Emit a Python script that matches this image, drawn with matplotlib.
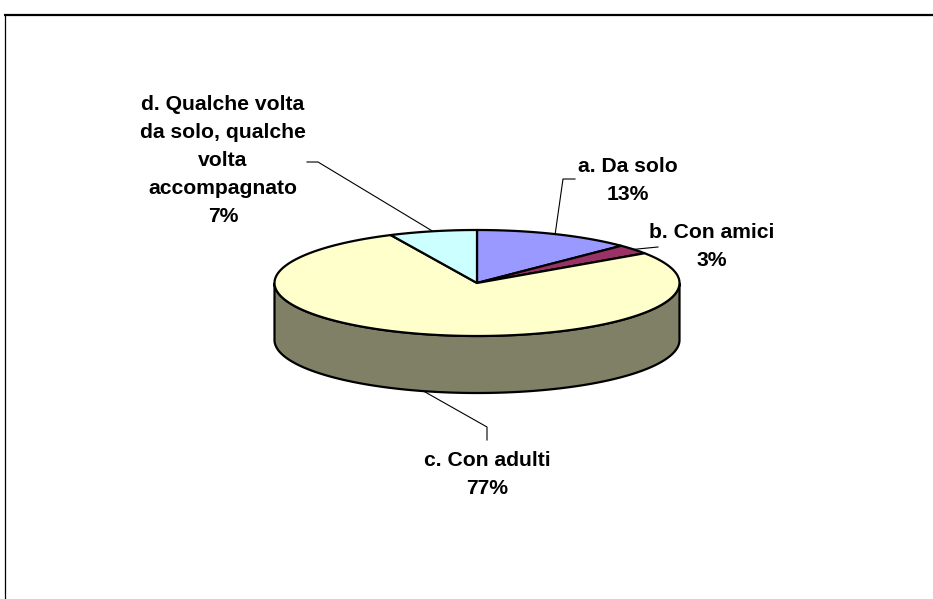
import numpy as np
import matplotlib
matplotlib.use("Agg")
import matplotlib.pyplot as plt
from matplotlib.patches import Polygon

# ---- data ----
categories = ["a. Da solo", "b. Con amici", "c. Con adulti",
              "d. Qualche volta\nda solo, qualche\nvolta\naccompagnato"]
values = [12.6, 2.9, 77.4, 7.0]
colors = ["#9999FF", "#993366", "#FFFFCC", "#CCFFFF"]
side_colors = ["#4D4D80", "#4D1A33", "#808066", "#668080"]

# ---- layout ----
W, H = 933, 599
cx, cy = 477, 283
A, B = 202.5, 53.0
DEPTH = 57

fig = plt.figure(figsize=(W / 100, H / 100), dpi=100)
ax = fig.add_axes([0, 0, 1, 1])
ax.set_xlim(0, W)
ax.set_ylim(H, 0)
ax.axis("off")

# frame
ax.plot([4, W], [14.5, 14.5], color="black", lw=1.6, solid_capstyle="butt")
ax.plot([4.5, 4.5], [14, H], color="black", lw=0.9, solid_capstyle="butt")


def pt(theta_deg, dy=0.0):
    t = np.radians(theta_deg)
    return cx + A * np.sin(t), cy - B * np.cos(t) + dy


total = float(sum(values))
angles = np.cumsum([0] + [v / total * 360 for v in values])

# sides (front half: 90..270 deg clockwise from top)
for i in range(len(values)):
    s, e = angles[i], angles[i + 1]
    lo, hi = max(s, 90), min(e, 270)
    if hi <= lo:
        continue
    th = np.linspace(lo, hi, 200)
    top = [pt(t) for t in th]
    bot = [pt(t, DEPTH) for t in th[::-1]]
    poly = Polygon(top + bot, closed=True, facecolor=side_colors[i],
                   edgecolor="black", lw=1.6, zorder=2)
    ax.add_patch(poly)

# top wedges
for i in range(len(values)):
    s, e = angles[i], angles[i + 1]
    th = np.linspace(s, e, max(int((e - s) * 3), 10))
    pts = [(cx, cy)] + [pt(t) for t in th]
    poly = Polygon(pts, closed=True, facecolor=colors[i],
                   edgecolor="black", lw=1.6, joinstyle="round", zorder=3)
    ax.add_patch(poly)

# labels with leader lines
label_pos = [(628, 180), (712, 247), (487, 474), (223, 161)]
elbows = [[(563, 179), (575, 179)],
          [(658, 247)],
          [(487, 427), (487, 440)],
          [(318, 162), (307, 162)]]
for i in range(len(values)):
    mid = (angles[i] + angles[i + 1]) / 2
    front = np.cos(np.radians(mid)) < 0
    ax_, ay_ = pt(mid, DEPTH if front else 0)
    xs = [ax_] + [p[0] for p in elbows[i]]
    ys = [ay_] + [p[1] for p in elbows[i]]
    ax.plot(xs, ys, color="black", lw=0.8, zorder=4)
    txt = f"{categories[i]}\n{round(values[i] / total * 100):.0f}%"
    ax.text(label_pos[i][0], label_pos[i][1], txt, ha="center", va="center",
            multialignment="center", fontsize=15.2, fontweight="bold",
            family="Liberation Sans", linespacing=1.6, color="black",
            zorder=5)

fig.savefig("out.png", dpi=100)
